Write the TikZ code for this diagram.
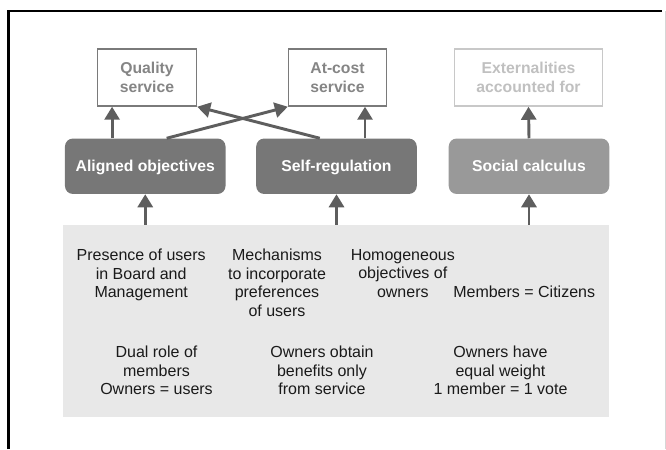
\documentclass[tikz,border=0pt]{standalone}
\usepackage{fontspec}
\setmainfont{Liberation Sans}
\usetikzlibrary{arrows.meta,calc}
\definecolor{boxdark}{HTML}{777777}
\definecolor{boxlight}{HTML}{999999}
\definecolor{arrowc}{HTML}{5E5E5E}
\definecolor{topline}{HTML}{7A7A7A}
\definecolor{toptext}{HTML}{858585}
\definecolor{fadeline}{HTML}{C8C8C8}
\definecolor{fadetext}{HTML}{C0C0C0}
\definecolor{areafill}{HTML}{E8E8E8}
\definecolor{bodytext}{HTML}{1A1A1A}
\definecolor{edgeline}{HTML}{D6D6D6}
\begin{document}
\begin{tikzpicture}[x=0.75pt,y=-0.75pt,
  topbox/.style={draw=topline, line width=1.1pt, fill=white, text=toptext,
    minimum height=42.75pt, inner sep=0pt, align=center,
    font=\bfseries\fontsize{11.8}{14}\selectfont},
  midbox/.style={fill=boxdark, rounded corners=6pt, text=white,
    minimum width=120.4pt, minimum height=41.6pt, inner sep=0pt,
    text height=8.6pt, text depth=0pt,
    font=\bfseries\fontsize{11.8}{14}\selectfont},
  arr/.style={draw=arrowc, line width=2.2pt,
    -{Triangle[width=11.25pt,length=9.75pt]}},
  body/.style={align=center, text=bodytext, inner sep=0pt, anchor=north,
    font=\fontsize{12}{13.8}\selectfont}]
\useasboundingbox (0,0) rectangle (666,449);
% frame
\draw[line width=1.8pt] (8.5,449) -- (8.5,11) -- (662,11);
\draw[edgeline, line width=0.75pt] (665,11) -- (665,449);
% grey area
\node[fill=areafill, minimum width=409.5pt, minimum height=144pt, inner sep=0pt] (ga) at (335.5,321) {};
% top boxes
\node[topbox, minimum width=74.25pt] (qs) at (147,77.5) {Quality\\service};
\node[topbox, minimum width=73.5pt] (ac) at (337.5,77.5) {At-cost\\service};
\node[topbox, draw=fadeline, text=fadetext, minimum width=111pt] (ex) at (528.5,77.5) {Externalities\\accounted for};
% middle boxes
\node[midbox] (ao) at (145.25,166.25) {Aligned objectives};
\node[midbox] (sr) at (336.5,166.25) {Self-regulation};
\node[midbox, fill=boxlight] (sc) at (529,166.25) {Social calculus};
% arrows up to top boxes
\coordinate (a1) at ($(ao.north west)!0.294!(ao.north east)$);
\coordinate (a2) at ($(ao.north west)!0.633!(ao.north east)$);
\coordinate (s1) at ($(sr.north west)!0.396!(sr.north east)$);
\coordinate (s2) at ($(sr.north west)!0.677!(sr.north east)$);
\draw[arr] (a1) -- (a1 |- qs.south);
\draw[arr] (a2) -- (ac.south west);
\draw[arr] (s1) -- (qs.south east);
\draw[arr] (s2) -- (s2 |- ac.south);
\draw[arr] (sc.north) -- (ex.south);
% arrows from grey area
\draw[arr] (ga.north -| ao.south) -- (ao.south);
\draw[arr] (ga.north -| sr.south) -- (sr.south);
\draw[arr] (ga.north -| sc.south) -- (sc.south);
% texts
\node[body] (p1) at (141.2,249) {Presence of users\\in Board and\\Management};
\node[body] (p2) at (277,249) {Mechanisms\\to incorporate\\preferences\\of users};
\node[body] (p3) at (402.8,249) {Homogeneous\\objectives of\\owners};
\node[body, anchor=base] (p4) at (524.2,297.5) {Members = Citizens};
\node[body] (q1) at (156.5,346) {Dual role of\\members\\Owners = users};
\node[body] (q2) at (322,346) {Owners obtain\\benefits only\\from service};
\node[body] (q3) at (500.5,346) {Owners have\\equal weight\\1 member = 1 vote};
\end{tikzpicture}
\end{document}
